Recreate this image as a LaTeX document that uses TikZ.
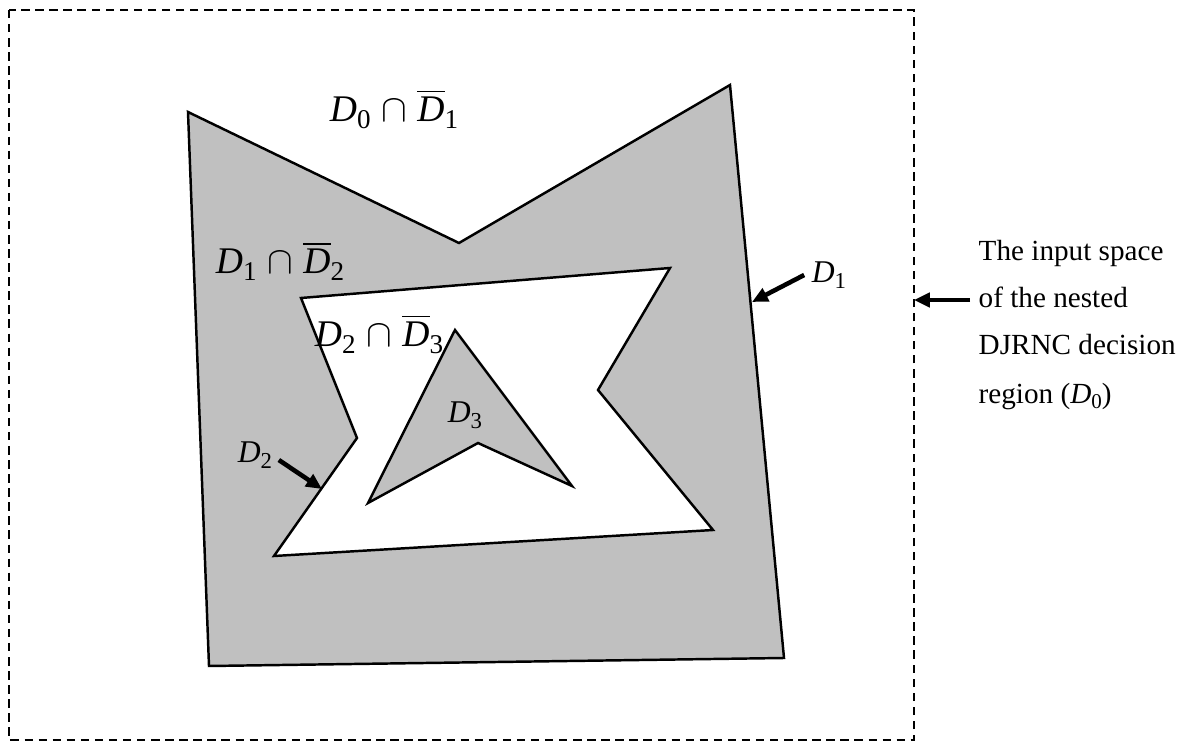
\documentclass[tikz,border=0pt]{standalone}
\usepackage{fontspec}
\setmainfont{Liberation Serif}
\usepackage{graphicx}
\usepackage{tikz}
\usetikzlibrary{arrows.meta,positioning,calc}

\definecolor{regiongray}{RGB}{192,192,192}
\newcommand{\subidx}[1]{\raisebox{-0.4ex}{\scalebox{0.72}{#1}}}
\newcommand{\Dn}[1]{\textit{D}\subidx{#1}}
\newcommand{\Dbar}[1]{$\overline{\mbox{\textit{D}}}$\subidx{#1}}
\newcommand{\capsep}{\hspace{0.28em}$\cap$\hspace{0.28em}}

\begin{document}
\begin{tikzpicture}[x=0.01cm,y=-0.01cm,
    edge/.style={draw=black,line width=0.7pt,line join=miter},
    ptr/.style={-{Triangle[length=4.5pt,width=4pt]},line width=1.3pt},
    biglab/.style={font=\fontsize{10.7}{12}\selectfont,inner sep=0pt},
    smalllab/.style={font=\fontsize{9}{11}\selectfont,inner sep=0pt},
    sidetext/.style={font=\fontsize{8.3}{10}\selectfont,inner sep=0pt,anchor=base west}]
    \useasboundingbox (0,0) rectangle (1197,743);

    % Input space
    \draw[line width=0.7pt,dash pattern=on 2.4pt off 1.6pt] (9,10) rectangle (914,740);

    % D1
    \fill[regiongray] (188,112) -- (459,243) -- (730,85) -- (784,658) -- (209,666) -- cycle;
    \draw[edge] (188,112) -- (459,243) -- (730,85) -- (784,658) -- (209,666) -- cycle;

    % D2
    \filldraw[edge,fill=white] (301,298) -- (670,268) -- (598,390) -- (713,530) -- (274,556) -- (357,438) -- cycle;

    % D3
    \filldraw[edge,fill=regiongray] (455,330) -- (572,486) -- (478,443) -- (368,503) -- cycle;

    % Labels
    \node[biglab] (l01) at (394,109) {\Dn{0}\capsep\Dbar{1}};
    \node[biglab] (l12) at (280,261) {\Dn{1}\capsep\Dbar{2}};
    \node[biglab] (l23) at (379,334) {\Dn{2}\capsep\Dbar{3}};
    \node[smalllab] (d3lab) at (465,415) {\Dn{3}};
    \node[smalllab] (d1lab) at (829,275) {\Dn{1}};
    \node[smalllab] (d2lab) at (255,455) {\Dn{2}};

    % Pointers
    \coordinate (d1tip) at (752,302);
    \coordinate (d2tip) at (322,489);
    \coordinate (boxtip) at (914,300);
    \draw[ptr] ($(d1lab.west)+(-7,0)$) -- (d1tip);
    \draw[ptr] ($(d2lab.east)+(6,5)$) -- (d2tip);

    % Side text
    \node[sidetext] (s1) at (978,261) {The input space};
    \node[sidetext] (s2) at (978,308) {of the nested};
    \node[sidetext] (s3) at (978,355) {DJRNC decision};
    \node[sidetext] (s4) at (978,403) {region (\Dn{0})};
    \draw[ptr] ($(s2.west |- boxtip)+(-8,0)$) -- (boxtip);
\end{tikzpicture}
\end{document}
